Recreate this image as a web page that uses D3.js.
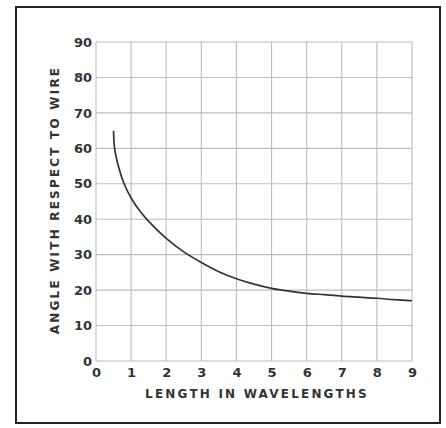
<!DOCTYPE html>
<html><head><meta charset="utf-8">
<script src="https://cdn.jsdelivr.net/npm/d3@7"></script>
<style>
html,body{margin:0;padding:0;background:#fff;}
svg{display:block;}
text{font-family:"DejaVu Sans",sans-serif;fill:#333;}
</style></head><body>
<script>
const lengthWL = [0.5,0.53,0.65,0.8,1,1.25,1.5,2,2.5,3,3.5,4,4.5,5,5.5,6,6.5,7,7.5,8,8.5,9];
const angleDeg = [65,60,54.5,50,46,42.3,39.4,34.6,30.8,27.8,25.2,23.2,21.7,20.5,19.7,19.1,18.7,18.3,18.0,17.7,17.3,17.0];
const xTicks = [0,1,2,3,4,5,6,7,8,9];
const yTicks = [0,10,20,30,40,50,60,70,80,90];
const xTitle = "LENGTH IN WAVELENGTHS";
const yTitle = "ANGLE WITH RESPECT TO WIRE";

const W=446,H=428;
const svg=d3.select("body").append("svg").attr("width",W).attr("height",H);
svg.append("rect").attr("x",16).attr("y",7).attr("width",424).attr("height",416)
  .attr("fill","none").attr("stroke","#222").attr("stroke-width",2);

const x=d3.scaleLinear().domain([0,9]).range([96,412]);
const y=d3.scaleLinear().domain([0,90]).range([361,42]);

const grid=svg.append("g").attr("stroke","#bdbdbd").attr("stroke-width",1.1);
xTicks.forEach(t=>grid.append("line").attr("x1",x(t)).attr("x2",x(t)).attr("y1",y(0)).attr("y2",y(90)));
yTicks.forEach(t=>grid.append("line").attr("x1",x(0)).attr("x2",x(9)).attr("y1",y(t)).attr("y2",y(t)));

const xa=svg.append("g").attr("transform",`translate(0,${y(0)})`)
  .call(d3.axisBottom(x).tickValues(xTicks).tickSize(0).tickPadding(7).tickFormat(d3.format("d")));
xa.select(".domain").remove();
xa.selectAll("text").attr("font-size",13).attr("font-weight","bold").style("font-family","DejaVu Sans").attr("fill","#333");

const ya=svg.append("g").attr("transform",`translate(${x(0)},0)`)
  .call(d3.axisLeft(y).tickValues(yTicks).tickSize(0).tickPadding(4).tickFormat(d3.format("d")));
ya.select(".domain").remove();
ya.selectAll("text").attr("font-size",13).attr("font-weight","bold").style("font-family","DejaVu Sans").attr("fill","#333");

svg.append("text").attr("x",257).attr("y",398).attr("text-anchor","middle")
  .attr("font-size",12).attr("font-weight","bold").attr("letter-spacing",2.2).text(xTitle);
svg.append("text").attr("transform","translate(59,200) rotate(-90)").attr("text-anchor","middle")
  .attr("font-size",12).attr("font-weight","bold").attr("letter-spacing",2.2).text(yTitle);

const data=lengthWL.map((d,i)=>[d,angleDeg[i]]);
svg.append("path").datum(data).attr("fill","none").attr("stroke","#333").attr("stroke-width",1.7)
  .attr("d",d3.line().x(d=>x(d[0])).y(d=>y(d[1])).curve(d3.curveCatmullRom.alpha(0.5)));
</script>
</body></html>
